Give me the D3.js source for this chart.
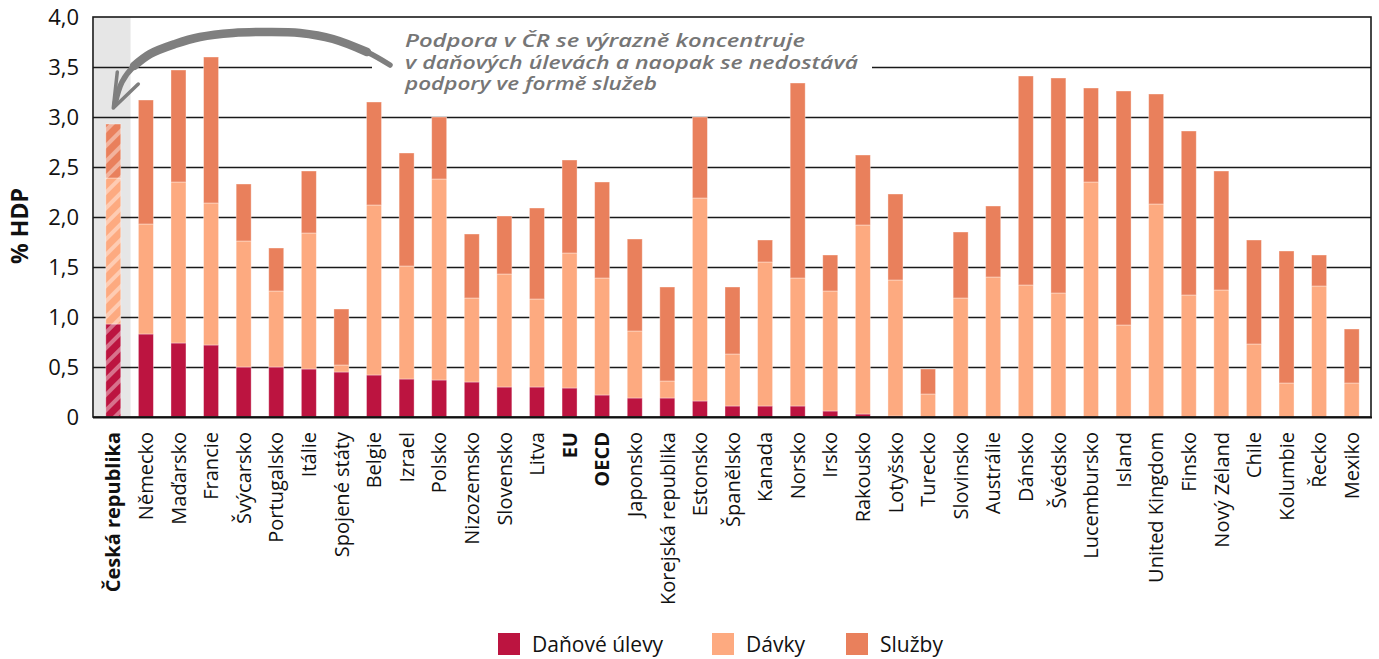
<!DOCTYPE html>
<html>
<head>
    <meta charset="utf-8" />
    <title>Podpora rodin</title>
    <script src="https://cdn.jsdelivr.net/npm/d3@7/dist/d3.min.js"></script>
    <style>
        body { margin: 0; background: #fff; }
        text { font-family: "Open Sans", sans-serif; }
    </style>
</head>
<body>
<script>
    // categories and values (% HDP)
    var countries = ['Česká republika', 'Německo', 'Maďarsko', 'Francie', 'Švýcarsko', 'Portugalsko', 'Itálie',
        'Spojené státy', 'Belgie', 'Izrael', 'Polsko', 'Nizozemsko', 'Slovensko', 'Litva', 'EU', 'OECD', 'Japonsko',
        'Korejská republika', 'Estonsko', 'Španělsko', 'Kanada', 'Norsko', 'Irsko', 'Rakousko', 'Lotyšsko', 'Turecko',
        'Slovinsko', 'Austrálie', 'Dánsko', 'Švédsko', 'Lucembursko', 'Island', 'United Kingdom', 'Finsko',
        'Nový Zéland', 'Chile', 'Kolumbie', 'Řecko', 'Mexiko'];

    var danoveUlevy = [0.93, 0.83, 0.74, 0.72, 0.50, 0.50, 0.48, 0.45, 0.42, 0.38, 0.37, 0.35, 0.30, 0.30, 0.29, 0.22, 0.19,
        0.19, 0.16, 0.11, 0.11, 0.11, 0.06, 0.03, 0.01, 0, 0, 0, 0, 0, 0, 0, 0, 0, 0, 0, 0, 0, 0];

    var davky = [1.46, 1.10, 1.61, 1.42, 1.26, 0.76, 1.36, 0.07, 1.70, 1.13, 2.01, 0.84, 1.13, 0.88, 1.35, 1.17, 0.67,
        0.17, 2.03, 0.52, 1.44, 1.28, 1.20, 1.89, 1.36, 0.23, 1.19, 1.40, 1.32, 1.24, 2.35, 0.92, 2.13, 1.22, 1.27, 0.73,
        0.34, 1.31, 0.34];

    var sluzby = [0.54, 1.24, 1.12, 1.46, 0.57, 0.43, 0.62, 0.56, 1.03, 1.13, 0.62, 0.64, 0.58, 0.91, 0.93, 0.96, 0.92,
        0.94, 0.81, 0.67, 0.22, 1.95, 0.36, 0.70, 0.86, 0.25, 0.66, 0.71, 2.09, 2.15, 0.94, 2.34, 1.10, 1.64, 1.19, 1.04,
        1.32, 0.31, 0.54];

    var seriesNames = ['Daňové úlevy', 'Dávky', 'Služby'];
    var colors = ['#BC1440', '#FDAA80', '#E9805C'];
    var yTicks = [0, 0.5, 1, 1.5, 2, 2.5, 3, 3.5, 4];
    var boldLabels = ['Česká republika', 'EU', 'OECD'];
    var noteLines = ['Podpora v ČR se výrazně koncentruje', 'v daňových úlevách a naopak se nedostává',
        'podpory ve formě služeb'];

    var W = 1379, H = 659,
        plotL = 93, plotR = 1371, plotT = 17, plotB = 417;

    var svg = d3.select('body').append('svg')
        .attr('width', W)
        .attr('height', H);

    var x = d3.scaleBand()
        .domain(countries)
        .range([97, 1368])
        .paddingInner(0.54)
        .paddingOuter(0.27);

    var y = d3.scaleLinear()
        .domain([0, 4])
        .range([plotB, plotT]);

    var table = countries.map((c, i) => ({
        country: c,
        'Daňové úlevy': danoveUlevy[i],
        'Dávky': davky[i],
        'Služby': sluzby[i]
    }));
    var stacked = d3.stack().keys(seriesNames)(table);

    // hatch patterns for the Czech bar
    var defs = svg.append('defs');
    colors.forEach(function (c, i) {
        var p = defs.append('pattern')
            .attr('id', 'hatch' + i)
            .attr('patternUnits', 'userSpaceOnUse')
            .attr('width', 11)
            .attr('height', 11)
            .attr('patternTransform', 'rotate(45)');
        p.append('rect').attr('width', 11).attr('height', 11).attr('fill', c);
        p.append('rect').attr('width', 4).attr('height', 11).attr('fill', '#fff').attr('opacity', 0.4);
    });

    // grey highlight behind Czech republic
    var czC = x(countries[0]) + x.bandwidth() / 2;
    svg.append('rect')
        .attr('x', plotL + 1)
        .attr('y', plotT)
        .attr('width', czC + x.step() * 0.53 - plotL - 1)
        .attr('height', plotB - plotT)
        .attr('fill', '#e6e6e6');

    // gridlines
    svg.append('g').selectAll('line')
        .data(yTicks.filter(d => d > 0 && d < 4))
        .enter().append('line')
        .attr('x1', plotL).attr('x2', plotR)
        .attr('y1', d => y(d) + 0.5).attr('y2', d => y(d) + 0.5)
        .attr('stroke', '#1a1a1a')
        .attr('stroke-width', 1.3);

    // white box behind the note
    svg.append('rect')
        .attr('x', 372).attr('y', 24)
        .attr('width', 500).attr('height', 76)
        .attr('fill', '#fff');

    // bars
    svg.append('g').selectAll('g')
        .data(stacked)
        .enter().append('g')
        .each(function (s, si) {
            d3.select(this).selectAll('rect')
                .data(s)
                .enter().append('rect')
                .attr('x', d => x(d.data.country))
                .attr('width', x.bandwidth())
                .attr('y', d => y(d[1]))
                .attr('height', d => Math.max(0, y(d[0]) - y(d[1])))
                .attr('fill', (d, i) => i === 0 ? 'url(#hatch' + si + ')' : colors[si])
                .attr('stroke', '#fff')
                .attr('stroke-opacity', 0.45)
                .attr('stroke-width', 0.8);
        });

    // frame
    svg.append('rect')
        .attr('x', plotL).attr('y', plotT)
        .attr('width', plotR - plotL).attr('height', plotB - plotT)
        .attr('fill', 'none')
        .attr('stroke', '#1a1a1a')
        .attr('stroke-width', 1.6);
    svg.append('line')
        .attr('x1', plotL).attr('x2', plotR + 1)
        .attr('y1', plotB + 0.5).attr('y2', plotB + 0.5)
        .attr('stroke', '#111').attr('stroke-width', 2.2);

    // y axis
    var yAxis = d3.axisLeft(y)
        .tickValues(yTicks)
        .tickSize(0)
        .tickPadding(14)
        .tickFormat(d => d === 0 ? '0' : d3.format('.1f')(d).replace('.', ','));
    svg.append('g')
        .attr('transform', `translate(${plotL},0)`)
        .call(yAxis)
        .call(g => g.select('.domain').remove())
        .selectAll('text')
        .style('font-size', '22px')
        .style('font-family', '"Open Sans", sans-serif')
        .attr('fill', '#111');

    svg.append('text')
        .attr('transform', `translate(28,${(plotT + plotB) / 2 + 9}) rotate(-90)`)
        .attr('text-anchor', 'middle')
        .style('font-size', '23px')
        .style('font-weight', 'bold')
        .attr('fill', '#111')
        .text('% HDP');

    // x axis
    var xAxis = d3.axisBottom(x).tickSize(0);
    svg.append('g')
        .attr('transform', `translate(0,${plotB})`)
        .call(xAxis)
        .call(g => g.select('.domain').remove())
        .selectAll('text')
        .attr('transform', 'rotate(-90)')
        .attr('x', -15)
        .attr('y', 0)
        .attr('dy', '0.36em')
        .style('text-anchor', 'end')
        .style('font-size', '20px')
        .style('font-family', '"Open Sans", sans-serif')
        .style('font-weight', d => boldLabels.includes(d) ? 'bold' : 'normal')
        .attr('fill', '#111');

    // note text
    var noteLen = [400, 453, 252];
    svg.append('g').selectAll('text')
        .data(noteLines)
        .enter().append('text')
        .attr('x', 405)
        .attr('y', (d, i) => 47 + i * 21.5)
        .attr('textLength', (d, i) => noteLen[i])
        .attr('lengthAdjust', 'spacingAndGlyphs')
        .style('font-size', '18.5px')
        .style('font-style', 'italic')
        .style('font-weight', 600)
        .attr('fill', '#767676')
        .text(d => d);

    // hand drawn arrow
    var arrowPts = [[390, 65], [367, 52], [333, 39], [300, 33], [267, 32], [233, 33], [200, 37], [175, 44], [150, 54],
        [134, 66], [122, 82], [115, 104]];
    var curve = d3.line().curve(d3.curveCatmullRom);
    svg.append('path')
        .attr('d', curve(arrowPts))
        .attr('fill', 'none')
        .attr('stroke', '#7f7f7f')
        .attr('stroke-width', 5.5)
        .attr('stroke-linecap', 'round');
    svg.append('path')
        .attr('d', curve(arrowPts.slice(1, 10)))
        .attr('fill', 'none')
        .attr('stroke', '#7f7f7f')
        .attr('stroke-width', 8.5)
        .attr('stroke-linecap', 'round');
    var tipX = czC, tipY = y(3.09);
    svg.append('path')
        .attr('d', `M${tipX},${tipY} L${tipX + 4},${tipY - 36} M${tipX},${tipY} L${tipX + 25},${tipY - 24}`)
        .attr('fill', 'none')
        .attr('stroke', '#7f7f7f')
        .attr('stroke-width', 3.5)
        .attr('stroke-linecap', 'round');

    // legend
    var legendX = [498, 712, 846];
    var lg = svg.append('g').selectAll('g')
        .data(seriesNames)
        .enter().append('g')
        .attr('transform', (d, i) => `translate(${legendX[i]},633)`);
    lg.append('rect')
        .attr('width', 22).attr('height', 22)
        .attr('fill', (d, i) => colors[i]);
    lg.append('text')
        .attr('x', 34)
        .attr('y', 19)
        .style('font-size', '21px')
        .attr('fill', '#111')
        .text(d => d);
</script>
</body>
</html>
